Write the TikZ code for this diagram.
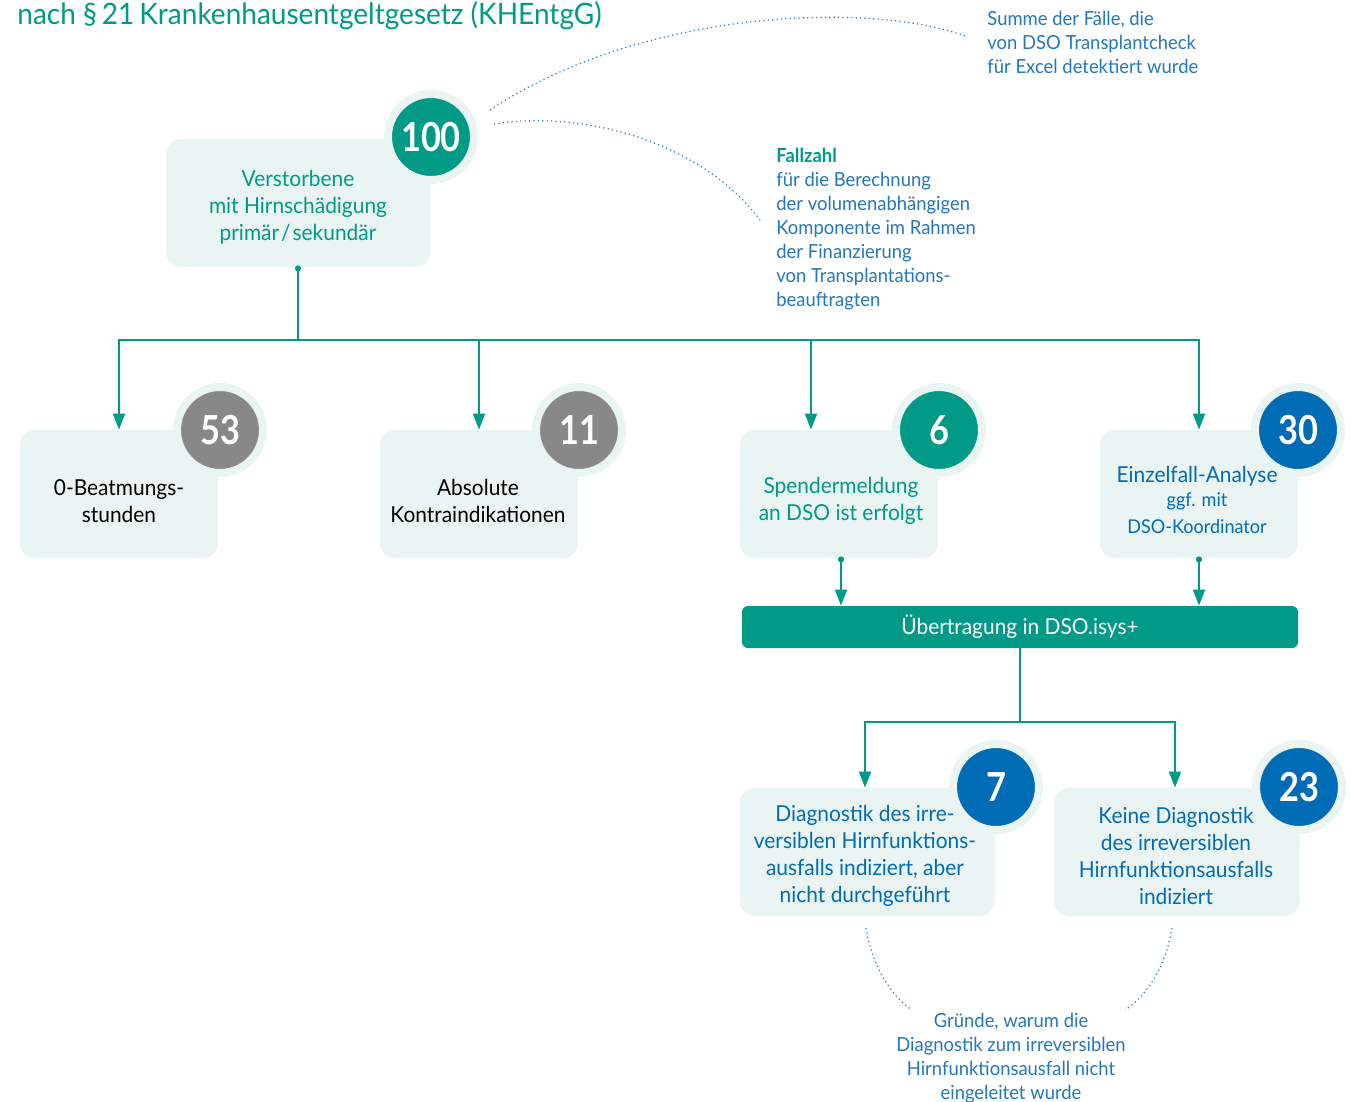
\documentclass[tikz,border=0pt]{standalone}
\usepackage{fontspec}
\setmainfont{Lato}[FakeStretch=0.95]
\newfontfamily\zahlfont{Lato}[FakeStretch=0.86]
\usetikzlibrary{arrows.meta}
\definecolor{dsoteal}{HTML}{009A87}
\definecolor{dsoblue}{HTML}{006CB5}
\definecolor{dsogray}{HTML}{888888}
\definecolor{dsopale}{HTML}{EAF4F2}
\definecolor{notizblau}{HTML}{2377BA}

\begin{document}
\begin{tikzpicture}[x=0.5pt,y=-0.5pt,
    kasten/.style={fill=dsopale, rounded corners=7.5pt, minimum width=#1, minimum height=64pt, inner sep=0pt},
    kasten/.default=99pt,
    zahl/.style={circle, fill=#1, draw=dsopale, line width=4pt, minimum size=43pt, inner sep=0pt, text=white, font=\zahlfont\fontsize{20}{20}\selectfont\bfseries},
    txt/.style={align=center, inner sep=0pt, font=\fontsize{11}{13.5}\selectfont},
    notiz/.style={align=left, inner sep=0pt, text=notizblau, font=\fontsize{9.7}{12}\selectfont},
    linie/.style={draw=dsoteal, line width=1pt},
    pfeil/.style={linie, -{Triangle[width=6pt,length=8pt]}},
    punktpfeil/.style={linie, {Circle[length=3pt]}-{Triangle[width=6pt,length=8pt]}},
    punktiert/.style={draw=notizblau, line width=0.6pt, dash pattern=on 0.6pt off 1.6pt}]
  \useasboundingbox (0,0) rectangle (1350,1102);

  % Ueberschrift
  \node[anchor=base west, inner sep=0pt, text=dsoteal, font=\fontsize{14.75}{18}\selectfont] (titel) at (17,25) {nach §\,21\,Krankenhausentgeltgesetz (KHEntgG)};

  % Kaesten
  \node[kasten=132pt] (verst) at (298,203) {};
  \node[kasten] (beatm) at (119,494) {};
  \node[kasten] (kontra) at (479,494) {};
  \node[kasten] (spende) at (839,494) {};
  \node[kasten] (einzel) at (1199,494) {};
  \node[kasten=127.5pt] (diagja) at (867,852) {};
  \node[kasten=122.5pt] (diagnein) at (1177,852) {};
  \node[fill=dsoteal, rounded corners=3pt, minimum width=278pt, minimum height=21pt, inner sep=0pt,
        text=white, font=\fontsize{11}{13.5}\selectfont] (isys) at (1020,627) {Übertragung in DSO.isys+};

  % Texte in den Kaesten
  \node[txt, text=dsoteal] (verst-t) at (298,207) {Verstorbene\\mit Hirnschädigung\\primär\kern1pt/\kern1pt sekundär};
  \node[txt] (beatm-t) at (119,501) {0-Beatmungs-\\stunden};
  \node[txt] (kontra-t) at (478,501) {Absolute\\Kontraindikationen};
  \node[txt, text=dsoteal] (spende-t) at (841,501) {Spendermeldung\\an DSO ist erfolgt};
  \node[txt, text=dsoblue] (einzel-t) at (1197,500) {Einzelfall-Analyse\\[-1.5pt]\fontsize{9.5}{11.5}\selectfont ggf. mit\\\fontsize{9.5}{11.5}\selectfont DSO-Koordinator};
  \node[txt, text=dsoblue] (diagja-t) at (865,856) {Diagnostik des irre-\\versiblen Hirnfunktions-\\ausfalls indiziert, aber\\nicht durchgeführt};
  \node[txt, text=dsoblue] (diagnein-t) at (1176,856) {Keine Diagnostik\\des irreversiblen\\Hirnfunktionsausfalls\\indiziert};

  % Zahlen
  \node[zahl=dsoteal] (n100) at (431,137) {100};
  \node[zahl=dsogray] (n53) at (220,430) {53};
  \node[zahl=dsogray] (n11) at (579,430) {11};
  \node[zahl=dsoteal] (n6) at (939,430) {6};
  \node[zahl=dsoblue] (n30) at (1298,430) {30};
  \node[zahl=dsoblue] (n7) at (996,787) {7};
  \node[zahl=dsoblue] (n23) at (1299,787) {23};

  % Verbindungen
  \coordinate (split) at (298,340);
  \draw[linie, {Circle[length=3pt]}-] ([yshift=1pt]verst.south) -- (split);
  \draw[pfeil] (split) -| (beatm.north);
  \draw[pfeil] (split) -| (kontra.north);
  \draw[pfeil] (split) -| ([xshift=-14pt]spende.north);
  \draw[pfeil] (split) -| (einzel.north);
  \draw[punktpfeil] ([xshift=1pt,yshift=1pt]spende.south) -- ([xshift=1pt]spende.south |- isys.north);
  \draw[punktpfeil] ([yshift=1pt]einzel.south) -- (einzel.south |- isys.north);
  \coordinate (split2) at (1020,722);
  \draw[linie] (isys.south) -- (split2);
  \draw[pfeil] (split2) -| ([xshift=-1pt]diagja.north);
  \draw[pfeil] (split2) -| ([xshift=-1pt]diagnein.north);

  % Anmerkungen
  \node[notiz, anchor=north west] (summe) at (987,11) {Summe der Fälle, die\\von DSO Transplantcheck\\für Excel detektiert wurde};
  \node[notiz, anchor=north west] (fallzahl) at (776,148) {\textcolor{dsoteal}{\bfseries Fallzahl}\\für die Berechnung\\der volumenabhängigen\\Komponente im Rahmen\\der Finanzierung\\von Transplantations-\\beauftragten};
  \node[notiz, align=center, anchor=north] (gruende) at (1011,1013) {Gründe, warum die\\Diagnostik zum irreversiblen\\Hirnfunktionsausfall nicht\\eingeleitet wurde};

  \coordinate (c1) at (968,37);
  \coordinate (c2) at (760,220);
  \coordinate (c3) at (912,1010);
  \coordinate (c4) at (1125,1010);
  \draw[punktiert] (490,110) .. controls (640,10) and (870,0) .. (c1);
  \draw[punktiert] (494,124) .. controls (580,110) and (700,140) .. (c2);
  \draw[punktiert] (866,928) .. controls (872,965) and (890,995) .. (c3);
  \draw[punktiert] (1172,928) .. controls (1166,965) and (1148,995) .. (c4);
\end{tikzpicture}
\end{document}
